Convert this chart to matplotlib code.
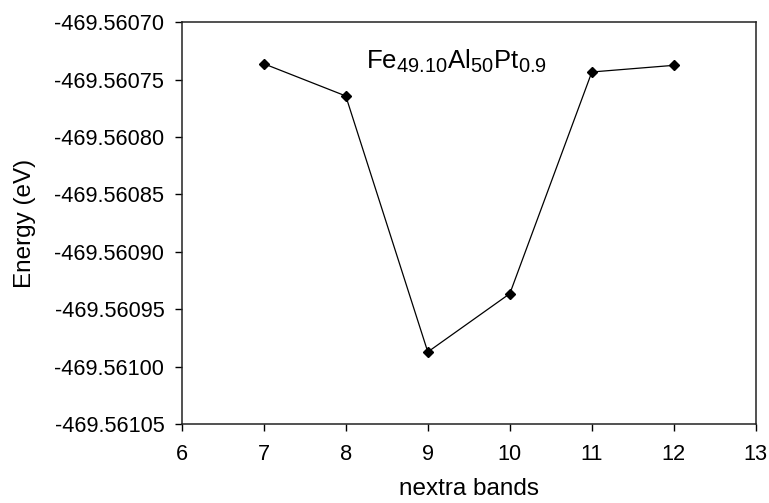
import matplotlib
matplotlib.use("Agg")
import matplotlib.pyplot as plt
from matplotlib.ticker import FixedLocator, FuncFormatter
import matplotlib._mathtext as _mt

_mt.SHRINK_FACTOR = 0.78

plt.rcParams['font.family'] = ['Liberation Sans', 'DejaVu Sans']
plt.rcParams['mathtext.fontset'] = 'custom'
plt.rcParams['mathtext.rm'] = 'Liberation Sans'
plt.rcParams['mathtext.it'] = 'Liberation Sans'
plt.rcParams['mathtext.bf'] = 'Liberation Sans:bold'
plt.rcParams['mathtext.default'] = 'regular'

# Data
nextra_bands = [7, 8, 9, 10, 11, 12]
energy = [-469.5607361, -469.5607642, -469.5609872, -469.5609364, -469.5607433, -469.5607375]
x_ticks = [6, 7, 8, 9, 10, 11, 12, 13]
y_ticks = [-469.56105, -469.56100, -469.56095, -469.56090, -469.56085, -469.56080, -469.56075, -469.56070]
title_text = r'Fe$_{49.10}$Al$_{50}$Pt$_{0.9}$'

fig = plt.figure(figsize=(7.69, 5.03), dpi=100)
ax = fig.add_axes([0.2363, 0.157, 0.983 - 0.2363, 0.9557 - 0.157])

ax.plot(nextra_bands, energy, color='black', linewidth=0.9, marker='D',
        markersize=4.8, markerfacecolor='black', markeredgecolor='black')

ax.set_xlim(x_ticks[0], x_ticks[-1])
ax.set_ylim(y_ticks[0], y_ticks[-1])
ax.xaxis.set_major_locator(FixedLocator(x_ticks))
ax.yaxis.set_major_locator(FixedLocator(y_ticks))
ax.xaxis.set_major_formatter(FuncFormatter(lambda v, p: f"{v:.0f}"))
ax.yaxis.set_major_formatter(FuncFormatter(lambda v, p: f"{v:.5f}"))

ax.tick_params(axis='both', direction='out', length=5, width=1.0, labelsize=15.7, colors='black')
ax.tick_params(axis='y', pad=7.5)
ax.tick_params(axis='x', pad=9.5)
for s in ax.spines.values():
    s.set_linewidth(1.1)
    s.set_color('#222222')

ax.set_xlabel('nextra bands', fontsize=17.5, labelpad=9)
ax.set_ylabel('Energy (eV)', fontsize=17.5, labelpad=13)

ax.text(0.4785, 0.884, title_text, transform=ax.transAxes, ha='center', va='baseline',
        fontsize=18.5, color='black')

fig.savefig('out.png', dpi=100)
